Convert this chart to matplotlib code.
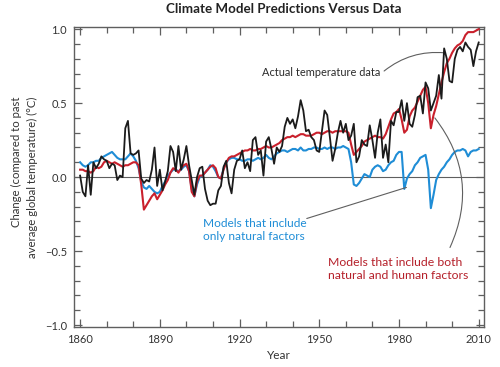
import numpy as np
import matplotlib
matplotlib.use("Agg")
import matplotlib.pyplot as plt
from matplotlib.ticker import MultipleLocator

plt.rcParams["font.family"] = ["Lato", "DejaVu Sans"]

# one value per year, 1860-2010
years = np.arange(1860, 2011)

actual = [
    0.01, -0.10, -0.13, 0.08, -0.12, 0.10, 0.06, 0.09, 0.14, 0.12,   # 1860s
    0.11, 0.06, 0.09, 0.08, -0.02, 0.01, 0.00, 0.33, 0.38, 0.16,     # 1870s
    0.15, 0.16, 0.18, -0.01, -0.04, -0.02, -0.03, 0.05, 0.20, -0.06, # 1880s
    0.05, -0.09, -0.03, 0.04, 0.21, 0.17, 0.04, 0.21, 0.05, 0.12,    # 1890s
    0.21, 0.08, -0.02, -0.12, 0.00, 0.06, 0.07, -0.08, -0.16, -0.19, # 1900s
    -0.18, -0.18, -0.09, -0.06, 0.07, 0.11, -0.04, -0.11, 0.05, 0.11,# 1910s
    0.12, 0.18, 0.06, 0.10, 0.04, 0.25, 0.27, 0.15, 0.18, 0.01,      # 1920s
    0.24, 0.27, 0.19, 0.09, 0.20, 0.17, 0.21, 0.34, 0.40, 0.36,      # 1930s
    0.39, 0.33, 0.41, 0.52, 0.45, 0.31, 0.32, 0.27, 0.25, 0.18,      # 1940s
    0.17, 0.31, 0.45, 0.42, 0.27, 0.11, 0.19, 0.30, 0.38, 0.30,      # 1950s
    0.36, 0.25, 0.28, 0.36, 0.10, 0.14, 0.25, 0.22, 0.21, 0.35,      # 1960s
    0.25, 0.13, 0.30, 0.39, 0.13, 0.22, 0.10, 0.38, 0.35, 0.44,      # 1970s
    0.44, 0.52, 0.38, 0.50, 0.36, 0.34, 0.42, 0.54, 0.55, 0.43,      # 1980s
    0.64, 0.60, 0.45, 0.50, 0.55, 0.69, 0.53, 0.87, 0.80, 0.65,      # 1990s
    0.64, 0.80, 0.86, 0.88, 0.85, 0.91, 0.88, 0.86, 0.75, 0.85,      # 2000s
    0.91,
]

natural_human = [
    0.05, 0.05, 0.04, 0.04, 0.03, 0.04, 0.07, 0.06, 0.07, 0.10,
    0.11, 0.10, 0.09, 0.10, 0.09, 0.08, 0.07, 0.08, 0.08, 0.09,
    0.10, 0.10, 0.08, -0.05, -0.22, -0.19, -0.16, -0.13, -0.11, -0.15,
    -0.12, -0.09, -0.05, -0.02, 0.03, 0.06, 0.05, 0.03, 0.06, 0.08,
    0.09, 0.04, -0.10, -0.13, -0.03, 0.01, 0.01, 0.03, 0.05, 0.07,
    0.08, 0.06, 0.00, -0.01, 0.05, 0.10, 0.13, 0.14, 0.14, 0.15,
    0.16, 0.17, 0.18, 0.18, 0.19, 0.18, 0.18, 0.19, 0.19, 0.20,
    0.21, 0.20, 0.20, 0.21, 0.22, 0.23, 0.25, 0.26, 0.27, 0.27,
    0.28, 0.27, 0.28, 0.29, 0.29, 0.28, 0.28, 0.28, 0.29, 0.30,
    0.30, 0.29, 0.30, 0.31, 0.31, 0.30, 0.31, 0.31, 0.31, 0.31,
    0.31, 0.30, 0.22, 0.15, 0.17, 0.19, 0.21, 0.24, 0.25, 0.26,
    0.27, 0.28, 0.27, 0.27, 0.26, 0.29, 0.34, 0.39, 0.43, 0.44,
    0.46, 0.39, 0.30, 0.32, 0.41, 0.45, 0.47, 0.51, 0.55, 0.59,
    0.61, 0.50, 0.33, 0.42, 0.48, 0.56, 0.64, 0.71, 0.77, 0.80,
    0.84, 0.87, 0.89, 0.90, 0.92, 0.96, 0.98, 0.98, 0.98, 0.99,
    1.00,
]

natural_only = [
    0.10, 0.08, 0.07, 0.08, 0.10, 0.10, 0.11, 0.11, 0.13, 0.14,
    0.15, 0.16, 0.17, 0.15, 0.13, 0.12, 0.12, 0.12, 0.14, 0.16,
    0.14, 0.11, 0.06, -0.03, -0.07, -0.08, -0.06, -0.08, -0.10, -0.11,
    -0.10, -0.06, -0.03, 0.01, 0.03, 0.05, 0.05, 0.04, 0.05, 0.07,
    0.08, 0.04, -0.08, -0.13, -0.05, 0.00, 0.01, 0.03, 0.05, 0.08,
    0.07, 0.04, 0.00, -0.01, 0.06, 0.10, 0.12, 0.13, 0.13, 0.12,
    0.12, 0.11, 0.11, 0.12, 0.12, 0.11, 0.12, 0.13, 0.12, 0.13,
    0.15, 0.13, 0.12, 0.14, 0.16, 0.17, 0.18, 0.18, 0.17, 0.18,
    0.19, 0.19, 0.18, 0.20, 0.18, 0.18, 0.19, 0.19, 0.20, 0.20,
    0.19, 0.19, 0.20, 0.19, 0.20, 0.20, 0.19, 0.20, 0.20, 0.21,
    0.20, 0.19, 0.10, -0.05, -0.06, -0.04, -0.01, 0.02, 0.01, 0.00,
    0.05, 0.07, 0.08, 0.07, 0.04, 0.05, 0.08, 0.10, 0.11, 0.15,
    0.17, 0.17, -0.08, -0.01, 0.02, 0.04, 0.08, 0.10, 0.13, 0.14,
    0.15, 0.05, -0.21, -0.12, -0.02, 0.02, 0.05, 0.07, 0.10, 0.12,
    0.15, 0.17, 0.18, 0.18, 0.19, 0.18, 0.14, 0.17, 0.18, 0.18,
    0.19,
]

x_ticks = [1860, 1890, 1920, 1950, 1980, 2010]
y_ticks = [-1.0, -0.5, 0.0, 0.5, 1.0]

BLACK = "#1b1b1b"
RED = "#c9202c"
BLUE = "#1f8dd6"
GREY = "#5f5f5f"

fig = plt.figure(figsize=(5, 3.67), dpi=100)
ax = fig.add_axes([0.148, 0.109, 0.82, 0.817])

ax.axhline(0, color=GREY, lw=0.8, zorder=1)
ax.plot(years, natural_only, color=BLUE, lw=1.5, zorder=2)
ax.plot(years, natural_human, color=RED, lw=1.5, zorder=3)
ax.plot(years, actual, color=BLACK, lw=1.3, zorder=4)

ax.set_xlim(1857.7, 2012)
ax.set_ylim(-1.0135, 1.0135)
ax.set_xticks(x_ticks)
ax.set_yticks(y_ticks)
ax.set_yticklabels(["\u22121.0", "\u22120.5", "0.0", "0.5", "1.0"])
ax.xaxis.set_minor_locator(MultipleLocator(10))
ax.yaxis.set_minor_locator(MultipleLocator(0.1))
ax.tick_params(which="both", direction="in", top=True, right=True,
               color=GREY, width=0.9, labelsize=8, labelcolor="#333333", pad=5)
ax.tick_params(which="major", length=6)
ax.tick_params(which="minor", length=4)
for sp in ax.spines.values():
    sp.set_color(GREY)
    sp.set_linewidth(1.0)

ax.set_xlabel("Year", fontsize=8.5, color="#333333", labelpad=4)
ax.set_ylabel("Change (compared to past\naverage global temperature) (\u00b0C)",
              fontsize=8.2, color="#333333", multialignment="right",
              linespacing=1.55, labelpad=5)
fig.suptitle("Climate Model Predictions Versus Data", fontsize=9.6,
             fontweight="bold", color="#222222", x=0.567, y=0.993)

line_kw = dict(arrowstyle="-", color=GREY, lw=0.8, shrinkA=0, shrinkB=0)

ax.text(1928.5, 0.71, "Actual temperature data", fontsize=7.9,
        color="#2b2b2b", ha="left", va="center")
ax.annotate("", xy=(1997.2, 0.84), xytext=(1974.4, 0.717),
            arrowprops=dict(connectionstyle="arc3,rad=-0.2", **line_kw))

ax.text(1906.3, -0.36, "Models that include\nonly natural factors", fontsize=8.6,
        color=BLUE, ha="left", va="center", linespacing=1.25)
ax.annotate("", xy=(1982.8, -0.07), xytext=(1945.3, -0.28),
            arrowprops=dict(connectionstyle="arc3,rad=0", **line_kw))

ax.text(1953.3, -0.62, "Models that include both\nnatural and human factors",
        fontsize=8.8, color="#b5202a", ha="left", va="center", linespacing=1.25)
ax.annotate("", xy=(1993.5, 0.40), xytext=(1999.2, -0.476),
            arrowprops=dict(connectionstyle="arc3,rad=0.3", **line_kw))

fig.savefig("out.png", dpi=100)
